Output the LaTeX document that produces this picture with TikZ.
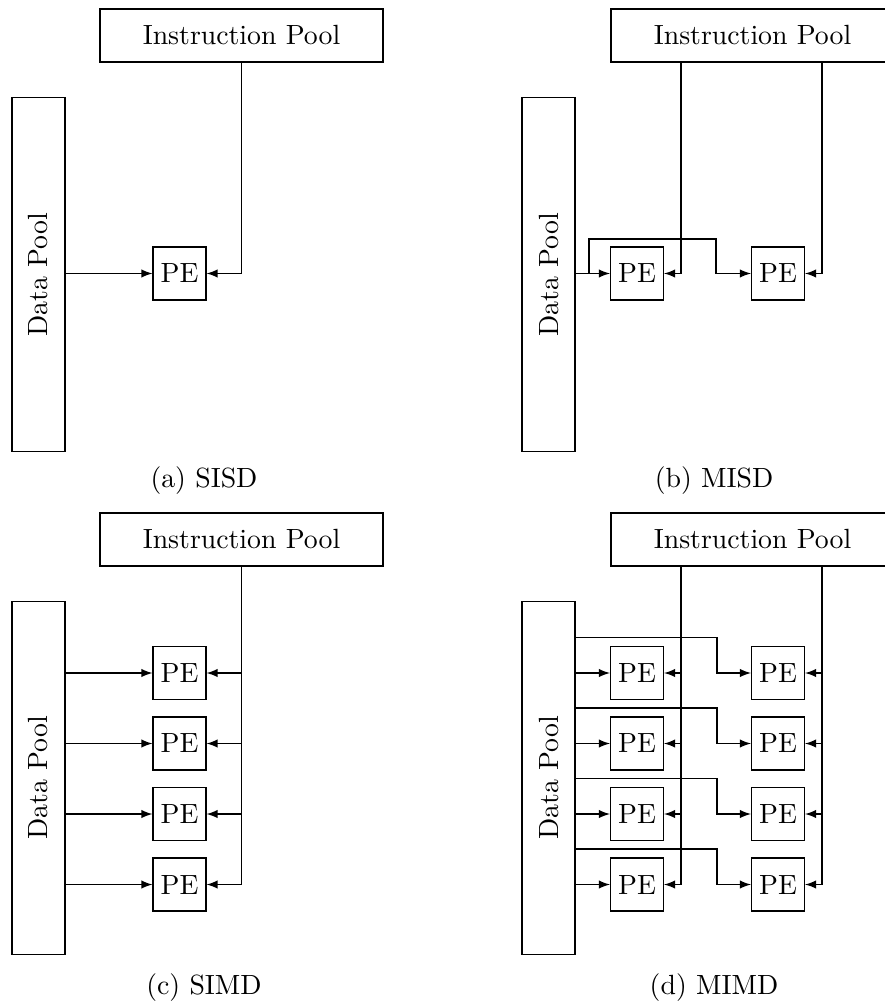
\documentclass[tikz,border=0pt]{standalone}
\usepackage{tikz}
\tikzset{
  pool/.style={draw, minimum width=3.58cm, minimum height=0.67cm, inner sep=0pt},
  datapool/.style={pool, minimum width=4.47cm, rotate=90},
  pe/.style={draw, minimum size=0.67cm, inner sep=0pt},
  link/.style={-latex},
}
\begin{document}
\begin{tikzpicture}[x=0.01265cm, y=-0.01265cm]
  \useasboundingbox (0,0) rectangle (884,1007);
  % (a) SISD
  \node[pool] (ipa) at (241.5,35.5) {Instruction Pool};
  \node[datapool] (dpa) at (38.5,274.5) {Data Pool};
  \node[pe] (pea) at (179.5,273.5) {PE};
  \draw[link] (pea -| dpa.south) -- (pea.west);
  \draw[link] (ipa.south) |- (pea.east);
  \node (capa) at (204,481) {(a) SISD};
  % (b) MISD
  \begin{scope}[shift={(510,0)}]
    \node[pool] (ipb) at (242.5,35.5) {Instruction Pool};
    \node[datapool] (dpb) at (38.5,274.5) {Data Pool};
    \node[pe] (peb1) at (127,273.5) {PE};
    \node[pe] (peb2) at (268,273.5) {PE};
    \coordinate (ib1) at (171,0);
    \coordinate (ib2) at (312,0);
    \coordinate (kb) at (79,239);
    \coordinate (tb) at (206,239);
    \draw[link] (peb1 -| dpb.south) -- (peb1.west);
    \draw[link] (kb |- peb1) -- (kb) -- (tb) |- (peb2.west);
    \draw[link] (ib1 |- ipb.south) |- (peb1.east);
    \draw[link] (ib2 |- ipb.south) |- (peb2.east);
    \node (capb) at (204,481) {(b) MISD};
  \end{scope}
  % (c) SIMD
  \begin{scope}[shift={(0,504)}]
    \node[pool] (ipc) at (241.5,35.5) {Instruction Pool};
    \node[datapool] (dpc) at (38.5,274) {Data Pool};
    \foreach \i/\y in {1/169,2/239.5,3/310,4/380.5} {
      \node[pe] (pec\i) at (179.5,\y) {PE};
      \draw[link] (pec\i -| dpc.south) -- (pec\i.west);
      \draw[link] (pec\i -| ipc.south) -- (pec\i.east);
    }
    \draw (ipc.south) -- (ipc.south |- pec4);
    \node (capc) at (204,484) {(c) SIMD};
  \end{scope}
  % (d) MIMD
  \begin{scope}[shift={(510,504)}]
    \node[pool] (ipd) at (242.5,35.5) {Instruction Pool};
    \node[datapool] (dpd) at (38.5,274) {Data Pool};
    \coordinate (id1) at (171,0);
    \coordinate (id2) at (312,0);
    \foreach \i/\y in {1/169,2/239.5,3/310,4/380.5} {
      \node[pe] (pel\i) at (127,\y) {PE};
      \node[pe] (per\i) at (268,\y) {PE};
      \coordinate (bd\i) at (207,\y-35.5);
      \draw[link] (pel\i -| dpd.south) -- (pel\i.west);
      \draw[link] (bd\i -| dpd.south) -- (bd\i) |- (per\i.west);
      \draw[link] (pel\i -| id1) -- (pel\i.east);
      \draw[link] (per\i -| id2) -- (per\i.east);
    }
    \draw (id1 |- ipd.south) -- (id1 |- pel4);
    \draw (id2 |- ipd.south) -- (id2 |- per4);
    \node (capd) at (204,484) {(d) MIMD};
  \end{scope}
\end{tikzpicture}
\end{document}
